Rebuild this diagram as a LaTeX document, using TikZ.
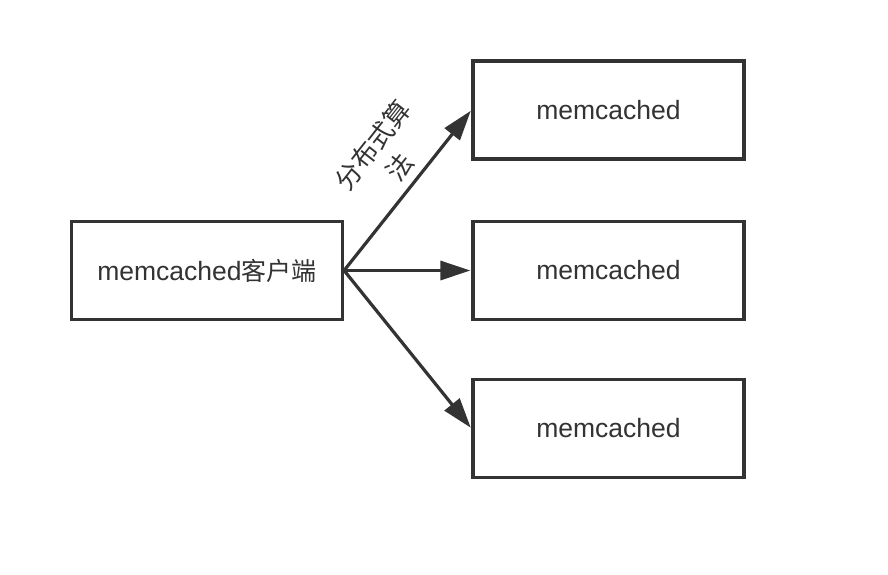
\documentclass[tikz,border=0pt]{standalone}
\usepackage{fontspec}
\setmainfont{Liberation Sans}
\newfontfamily\cjk{Noto Sans CJK SC}
\usetikzlibrary{arrows.meta}
\definecolor{ink}{HTML}{333333}
\begin{document}
\begin{tikzpicture}[x=1pt,y=-1pt,
  box/.style={draw=ink,line width=3.2pt,minimum width=271pt,minimum height=98pt,inner sep=0pt,
    text=ink,font=\fontsize{26.5}{30}\selectfont},
  conn/.style={draw=ink,line width=3.2pt,-{Triangle[length=30pt,width=19pt]},shorten >=1pt}]
\useasboundingbox (0,0) rectangle (888,574);
\fill[white] (0,0) rectangle (888,574);
\node[box] (c) at (207,270.5) {memcached{\cjk\fontsize{25}{30}\selectfont 客户端}};
\node[box] (s1) at (608.5,110) {memcached};
\node[box] (s2) at (608.5,270.5) {memcached};
\node[box] (s3) at (608.5,428.5) {memcached};
\draw[conn] (c.east) -- (s1.west);
\draw[conn] (c.east) -- (s2.west);
\draw[conn] (c.east) -- (s3.west);
\node[rotate=52,align=center,text=ink,font=\cjk\fontsize{26}{35}\selectfont,inner sep=0pt] (lbl) at (386,156) {分布式算\\法};
\end{tikzpicture}
\end{document}
